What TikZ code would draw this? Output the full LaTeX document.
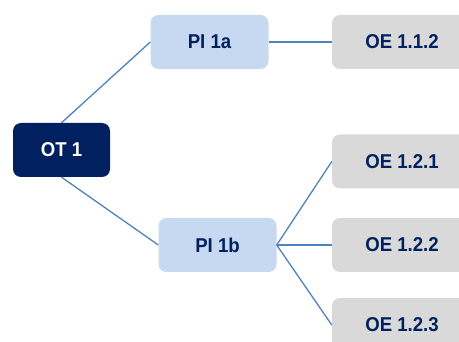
\documentclass[tikz,border=0pt]{standalone}
\usepackage{fontspec}
\setmainfont{Liberation Sans}
\newfontfamily\boxfont[FakeStretch=0.93]{Liberation Sans}
\definecolor{navy}{HTML}{002060}
\definecolor{pifill}{HTML}{C6D9F0}
\definecolor{oefill}{HTML}{D9D9D9}
\definecolor{linec}{HTML}{4F81BD}
\begin{document}
\begin{tikzpicture}[x=1pt,y=-1pt,
  box/.style={rounded corners=8pt, inner sep=0pt, font=\boxfont\fontsize{20}{24}\selectfont\bfseries, text=navy},
  otbox/.style={box, fill=navy, text=white, minimum width=97pt, minimum height=54pt},
  pibox/.style={box, fill=pifill, minimum width=118pt, minimum height=54pt},
  oebox/.style={box, fill=oefill, minimum width=140pt, minimum height=54pt},
  conn/.style={draw=linec, line width=1.3pt}]
\useasboundingbox (0,0) rectangle (459,342);
\node[otbox] (ot1) at (61.5,150) {OT 1};
\node[pibox] (pi1a) at (209.5,42) {PI 1a};
\node[pibox] (pi1b) at (217.5,245) {PI 1b};
\node[oebox] (oe112) at (402,42) {OE 1.1.2};
\node[oebox] (oe121) at (402,161.5) {OE 1.2.1};
\node[oebox] (oe122) at (402,245) {OE 1.2.2};
\node[oebox] (oe123) at (402,325) {OE 1.2.3};
\draw[conn] (ot1.north) -- (pi1a.west);
\draw[conn] (ot1.south) -- (pi1b.west);
\draw[conn] (pi1a.east) -- (oe112.west);
\draw[conn] (pi1b.east) -- (oe121.west);
\draw[conn] (pi1b.east) -- (oe122.west);
\draw[conn] (pi1b.east) -- (oe123.west);
\end{tikzpicture}
\end{document}
